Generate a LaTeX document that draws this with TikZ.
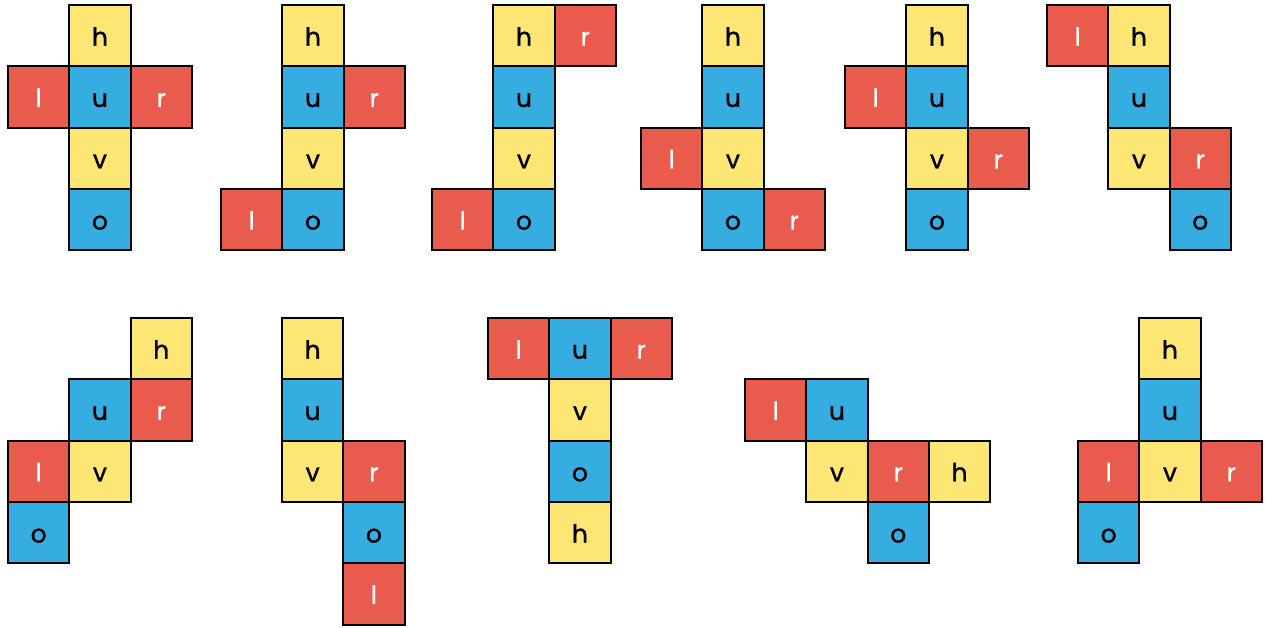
\documentclass[tikz,border=0pt]{standalone}
\usepackage{fontspec}
\setmainfont{Poppins}
\newfontfamily\cellfont[FakeBold=1.2,Scale=1.25]{Poppins}
\definecolor{cy}{HTML}{FDE674}
\definecolor{cb}{HTML}{36ADE0}
\definecolor{cr}{HTML}{E95B4D}
\tikzset{
  cell/.style={draw=black, line width=2pt, minimum size=61.3pt, inner sep=0pt,
    text height=20pt, text depth=0pt, font=\fontsize{20}{20}\cellfont},
  Y/.style={cell, fill=cy, text=black},
  B/.style={cell, fill=cb, text=black},
  R/.style={cell, fill=cr, text=white},
}
\newcommand{\cellat}[6]{%
  \node[#4] (#1) at ({61.3*(#2+0.5)},{61.3*(#3+0.5)}) {#5};}
\begin{document}
\begin{tikzpicture}[x=1pt,y=-1pt]
\useasboundingbox (0,0) rectangle (1268,627);
% net 1
\begin{scope}[shift={(8,5)}]
\cellat{a1h}{1}{0}{Y}{h}{}
\cellat{a1l}{0}{1}{R}{l}{}
\cellat{a1u}{1}{1}{B}{u}{}
\cellat{a1r}{2}{1}{R}{r}{}
\cellat{a1v}{1}{2}{Y}{v}{}
\cellat{a1o}{1}{3}{B}{o}{}
\end{scope}
% net 2
\begin{scope}[shift={(221,5)}]
\cellat{a2h}{1}{0}{Y}{h}{}
\cellat{a2u}{1}{1}{B}{u}{}
\cellat{a2r}{2}{1}{R}{r}{}
\cellat{a2v}{1}{2}{Y}{v}{}
\cellat{a2l}{0}{3}{R}{l}{}
\cellat{a2o}{1}{3}{B}{o}{}
\end{scope}
% net 3
\begin{scope}[shift={(432,5)}]
\cellat{a3h}{1}{0}{Y}{h}{}
\cellat{a3r}{2}{0}{R}{r}{}
\cellat{a3u}{1}{1}{B}{u}{}
\cellat{a3v}{1}{2}{Y}{v}{}
\cellat{a3l}{0}{3}{R}{l}{}
\cellat{a3o}{1}{3}{B}{o}{}
\end{scope}
% net 4
\begin{scope}[shift={(641,5)}]
\cellat{a4h}{1}{0}{Y}{h}{}
\cellat{a4u}{1}{1}{B}{u}{}
\cellat{a4l}{0}{2}{R}{l}{}
\cellat{a4v}{1}{2}{Y}{v}{}
\cellat{a4o}{1}{3}{B}{o}{}
\cellat{a4r}{2}{3}{R}{r}{}
\end{scope}
% net 5
\begin{scope}[shift={(845,5)}]
\cellat{a5h}{1}{0}{Y}{h}{}
\cellat{a5l}{0}{1}{R}{l}{}
\cellat{a5u}{1}{1}{B}{u}{}
\cellat{a5v}{1}{2}{Y}{v}{}
\cellat{a5r}{2}{2}{R}{r}{}
\cellat{a5o}{1}{3}{B}{o}{}
\end{scope}
% net 6
\begin{scope}[shift={(1047,5)}]
\cellat{a6l}{0}{0}{R}{l}{}
\cellat{a6h}{1}{0}{Y}{h}{}
\cellat{a6u}{1}{1}{B}{u}{}
\cellat{a6v}{1}{2}{Y}{v}{}
\cellat{a6r}{2}{2}{R}{r}{}
\cellat{a6o}{2}{3}{B}{o}{}
\end{scope}
% net 7
\begin{scope}[shift={(8,318)}]
\cellat{a7h}{2}{0}{Y}{h}{}
\cellat{a7u}{1}{1}{B}{u}{}
\cellat{a7r}{2}{1}{R}{r}{}
\cellat{a7l}{0}{2}{R}{l}{}
\cellat{a7v}{1}{2}{Y}{v}{}
\cellat{a7o}{0}{3}{B}{o}{}
\end{scope}
% net 8
\begin{scope}[shift={(282,318)}]
\cellat{a8h}{0}{0}{Y}{h}{}
\cellat{a8u}{0}{1}{B}{u}{}
\cellat{a8v}{0}{2}{Y}{v}{}
\cellat{a8r}{1}{2}{R}{r}{}
\cellat{a8o}{1}{3}{B}{o}{}
\cellat{a8l}{1}{4}{R}{l}{}
\end{scope}
% net 9
\begin{scope}[shift={(488,318)}]
\cellat{a9l}{0}{0}{R}{l}{}
\cellat{a9u}{1}{0}{B}{u}{}
\cellat{a9r}{2}{0}{R}{r}{}
\cellat{a9v}{1}{1}{Y}{v}{}
\cellat{a9o}{1}{2}{B}{o}{}
\cellat{a9h}{1}{3}{Y}{h}{}
\end{scope}
% net 10
\begin{scope}[shift={(745,318)}]
\cellat{a10l}{0}{1}{R}{l}{}
\cellat{a10u}{1}{1}{B}{u}{}
\cellat{a10v}{1}{2}{Y}{v}{}
\cellat{a10r}{2}{2}{R}{r}{}
\cellat{a10h}{3}{2}{Y}{h}{}
\cellat{a10o}{2}{3}{B}{o}{}
\end{scope}
% net 11
\begin{scope}[shift={(1078,318)}]
\cellat{a11h}{1}{0}{Y}{h}{}
\cellat{a11u}{1}{1}{B}{u}{}
\cellat{a11l}{0}{2}{R}{l}{}
\cellat{a11v}{1}{2}{Y}{v}{}
\cellat{a11r}{2}{2}{R}{r}{}
\cellat{a11o}{0}{3}{B}{o}{}
\end{scope}
\end{tikzpicture}
\end{document}
